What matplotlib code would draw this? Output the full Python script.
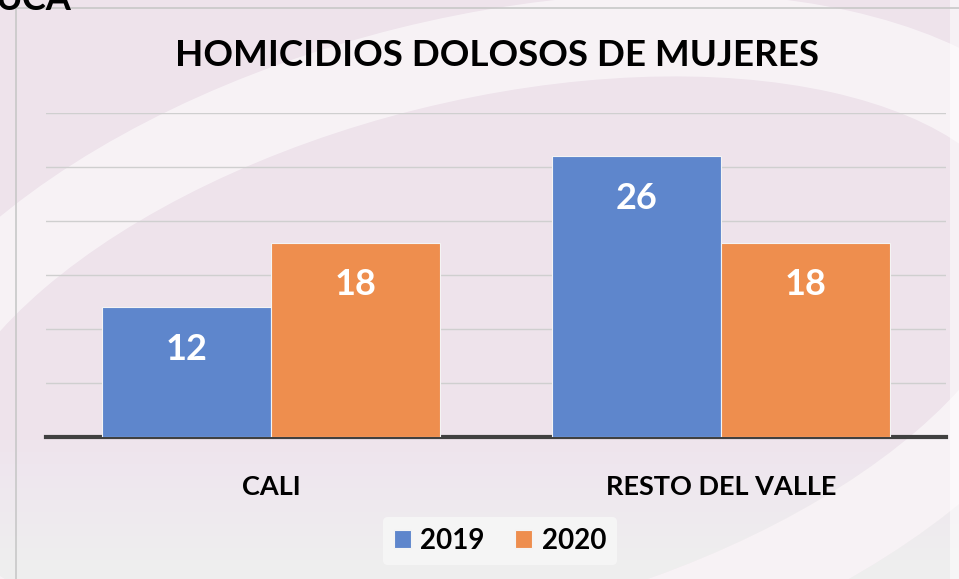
import matplotlib.pyplot as plt
import matplotlib.patches as mpatches
import numpy as np

# data
categories = ['CALI', 'RESTO DEL VALLE']
years = ['2019', '2020']
vals_2019 = [12, 26]
vals_2020 = [18, 18]

blue = '#5E86CC'
orange = '#EE8E4E'
pink = '#EEE3EB'

plt.rcParams['font.family'] = ['Lato', 'DejaVu Sans']

fig = plt.figure(figsize=(9.59, 5.79), dpi=100)
fig.patch.set_facecolor(pink)

# background swirl, rough
bg = fig.add_axes([0, 0, 1, 1], zorder=-5)
bg.set_xlim(0, 959)
bg.set_ylim(579, 0)
bg.axis('off')
bg.add_patch(mpatches.Ellipse((480, 360), 1200, 600, angle=-14, fill=False,
                              lw=60, ec='white', alpha=0.55))
# soft fade to white toward the bottom
for i in range(12):
    bg.add_patch(mpatches.Rectangle((0, 440 + i * 12), 959, 200, fc='white', alpha=0.06, ec='none'))
bg.add_patch(mpatches.Rectangle((950, 0), 200, 579, fc='white', alpha=0.5, ec='none'))
bg.add_patch(mpatches.Rectangle((16, 8), 960, 600, fill=False, ec='#C8C8C8', lw=1.2))
fig.text(-0.005, 1.0, 'UCA', fontsize=26, fontweight='bold', va='center', ha='left')

ax = fig.add_axes([46 / 959, 1 - 437 / 579, 900 / 959, 324 / 579])
ax.patch.set_alpha(0)

x = np.arange(len(categories))
w = 0.375
b1 = ax.bar(x - w / 2, vals_2019, w, color=blue, label=years[0], ec='#F4F4F4', lw=0.8, zorder=3)
b2 = ax.bar(x + w / 2, vals_2020, w, color=orange, label=years[1], ec='#F4F4F4', lw=0.8, zorder=3)

for bars in (b1, b2):
    for r in bars:
        ax.text(r.get_x() + r.get_width() / 2, r.get_height() - 3.9, str(int(r.get_height())),
                ha='center', va='center', color='white', fontsize=26, fontweight='bold', zorder=4)

ax.set_xlim(-0.5, 1.5)
ax.set_ylim(0, 30)
ax.set_yticks(np.arange(5, 31, 5))
ax.yaxis.grid(True, color='#CFCFCF', lw=1)
ax.set_axisbelow(True)
ax.tick_params(axis='y', left=False, labelleft=False)
ax.tick_params(axis='x', bottom=False, pad=24)
ax.set_xticks(x)
ax.set_xticklabels(categories, fontsize=19.5, fontweight='bold')
for s in ['top', 'right', 'left']:
    ax.spines[s].set_visible(False)
ax.spines['bottom'].set_color('#404040')
ax.spines['bottom'].set_linewidth(3)

fig.text(497 / 959, 1 - 55 / 579, 'HOMICIDIOS DOLOSOS DE MUJERES', ha='center', va='center',
         fontsize=26.5, fontweight='bold')

leg = fig.legend(loc='center', bbox_to_anchor=(500 / 959, 1 - 541 / 579), ncol=2, frameon=True,
                 prop={'weight': 'bold', 'size': 20}, handlelength=0.6, handleheight=0.6,
                 columnspacing=1.1, handletextpad=0.35, borderpad=0.4)
leg.get_frame().set_facecolor('#F8F8F8')
leg.get_frame().set_edgecolor('none')
leg.get_frame().set_alpha(0.8)

plt.savefig('out.png', dpi=100, facecolor=fig.get_facecolor())
